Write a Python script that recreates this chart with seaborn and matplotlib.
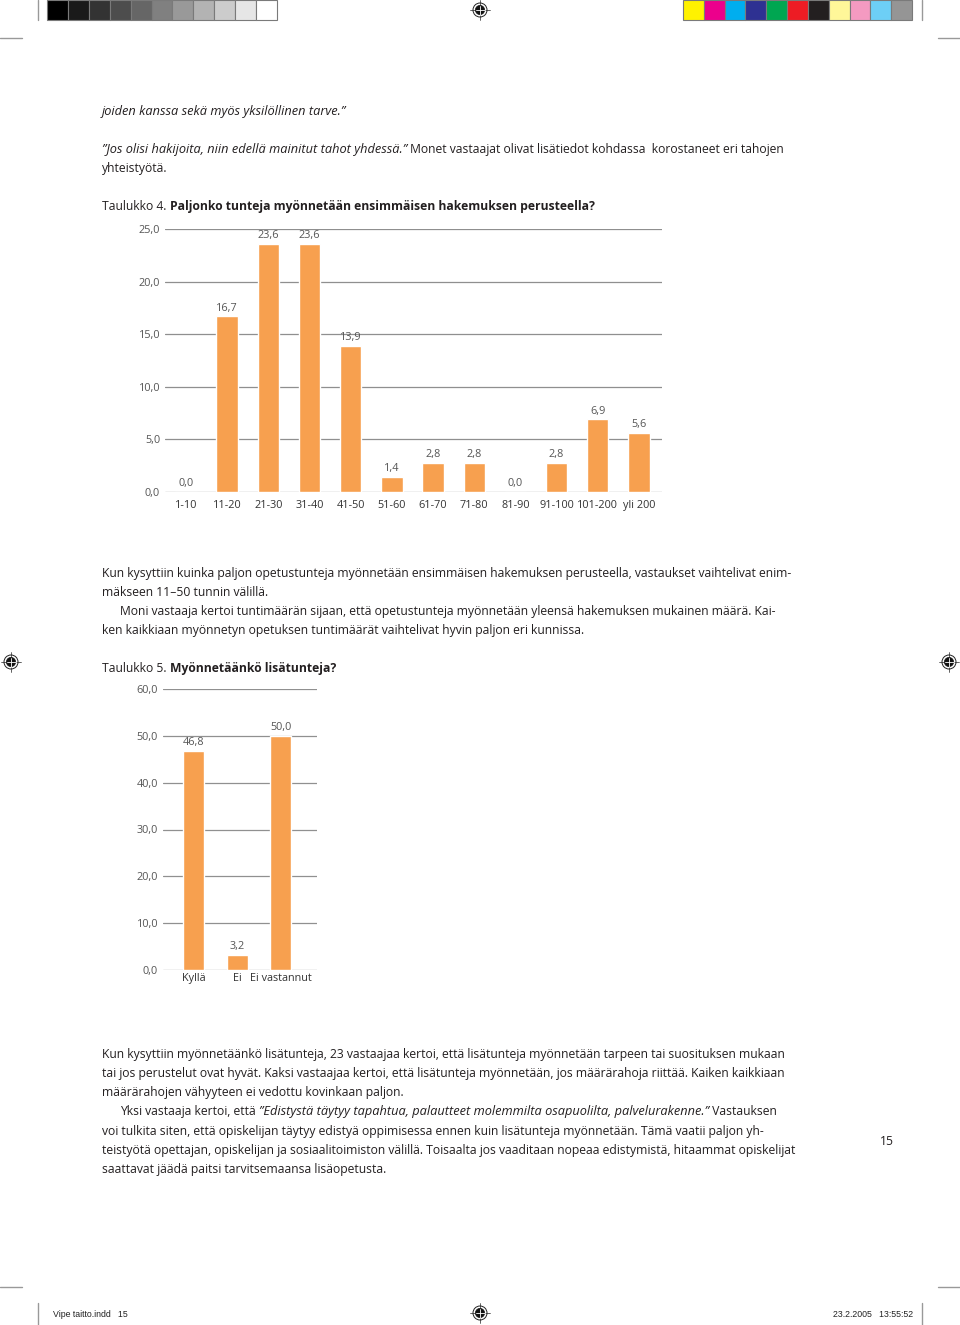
import matplotlib
matplotlib.use('Agg')
import matplotlib.pyplot as plt
import seaborn as sns
import numpy as np
import pandas as pd
from matplotlib.patches import Rectangle, Circle

sns.set_theme(style='white')
plt.rcParams['font.family'] = ['Open Sans', 'DejaVu Sans']

# ---------------- data ----------------
cats1 = ['1-10', '11-20', '21-30', '31-40', '41-50', '51-60', '61-70',
         '71-80', '81-90', '91-100', '101-200', 'yli 200']
vals1 = [0.0, 16.7, 23.6, 23.6, 13.9, 1.4, 2.8, 2.8, 0.0, 2.8, 6.9, 5.6]
ticks1 = [0, 5, 10, 15, 20, 25]

cats2 = ['Kyllä', 'Ei', 'Ei vastannut']
vals2 = [46.8, 3.2, 50.0]
ticks2 = [0, 10, 20, 30, 40, 50, 60]

grays = ['#000000', '#1a1a1a', '#333333', '#4d4d4d', '#666666', '#808080',
         '#999999', '#b3b3b3', '#cccccc', '#e6e6e6', '#ffffff']
colors = ['#fff200', '#ec008c', '#00aeef', '#2e3192', '#00a651', '#ed1c24',
          '#231f20', '#fff799', '#f49ac1', '#6dcff6', '#959595']

BAR = '#F7A04F'
GRID = '#8f8f8f'
TC = '#231f20'
LC = '#555555'
FS = 8.77
CFS = 7.8

W, H = 960, 1325
fig = plt.figure(figsize=(9.6, 13.25), dpi=100)
fig.patch.set_facecolor('white')
bg = fig.add_axes([0, 0, 1, 1])
bg.set_xlim(0, W)
bg.set_ylim(H, 0)
bg.axis('off')
bg.patch.set_alpha(0)


def fx(px):
    return px / W


def fy(py):
    return 1 - py / H


# ---------------- print marks ----------------
def swatches(x0, x1, cols):
    w = (x1 - x0) / len(cols)
    for i, c in enumerate(cols):
        bg.add_patch(Rectangle((x0 + i * w, 0), w, 20, fc=c, ec='#7a7a7a', lw=0.8))


swatches(47, 277, grays)
swatches(683, 912, colors)


def reg(cx, cy):
    bg.add_patch(Circle((cx, cy), 7, fill=False, lw=0.7, ec='#222'))
    bg.add_patch(Circle((cx, cy), 4.6, fc='#111', ec='#111', lw=0.5))
    bg.plot([cx - 10, cx + 10], [cy, cy], color='#222', lw=0.5)
    bg.plot([cx, cx], [cy - 10, cy + 10], color='#222', lw=0.5)
    bg.plot([cx - 4.5, cx + 4.5], [cy, cy], color='white', lw=0.6)
    bg.plot([cx, cx], [cy - 4.5, cy + 4.5], color='white', lw=0.6)


reg(480, 10)
reg(11, 662)
reg(949, 662)
reg(480, 1313)

mk = dict(color='#999999', lw=1.0)
bg.plot([0, 22], [38, 38], **mk)
bg.plot([938, 960], [38, 38], **mk)
bg.plot([38, 38], [0, 20], **mk)
bg.plot([922, 922], [0, 20], **mk)
bg.plot([0, 22], [1287, 1287], **mk)
bg.plot([938, 960], [1287, 1287], **mk)
bg.plot([38, 38], [1303, 1325], **mk)
bg.plot([922, 922], [1303, 1325], **mk)

foot = ['Liberation Sans Narrow', 'Liberation Sans', 'DejaVu Sans']
bg.text(53, 1317, 'Vipe taitto.indd   15', fontsize=6.3, family=foot,
        color='#222', va='baseline', ha='left')
bg.text(913, 1317, '23.2.2005   13:55:52', fontsize=6.3, family=foot,
        color='#222', va='baseline', ha='right')


# ---------------- body text ----------------
def line(x, y, segs, size=FS):
    prev = None
    for txt, st in segs:
        kw = dict(fontsize=size, color=TC)
        if st == 'i':
            kw['style'] = 'italic'
            kw['fontsize'] = size * 1.05
        elif st == 'b':
            kw['weight'] = 'bold'
        if prev is None:
            prev = bg.text(x, y + 4, txt, va='baseline', ha='left', **kw)
        else:
            prev = bg.annotate(txt, xy=(1, 0), xycoords=prev, va='bottom',
                               ha='left', **kw)


L = 102
IND = 120
line(L, 111, [('joiden kanssa sekä myös yksilöllinen tarve.”', 'i')])
line(L, 149, [('”Jos olisi hakijoita, niin edellä mainitut tahot yhdessä.”', 'i'),
              (' Monet vastaajat olivat lisätiedot kohdassa  korostaneet eri tahojen', 'n')])
line(L, 168, [('yhteistyötä.', 'n')])
line(L, 206, [('Taulukko 4. ', 'n'),
              ('Paljonko tunteja myönnetään ensimmäisen hakemuksen perusteella?', 'b')])

line(L, 573, [('Kun kysyttiin kuinka paljon opetustunteja myönnetään ensimmäisen hakemuksen perusteella, vastaukset vaihtelivat enim-', 'n')])
line(L, 592, [('mäkseen 11–50 tunnin välillä.', 'n')])
line(IND, 611, [('Moni vastaaja kertoi tuntimäärän sijaan, että opetustunteja myönnetään yleensä hakemuksen mukainen määrä. Kai-', 'n')])
line(L, 630, [('ken kaikkiaan myönnetyn opetuksen tuntimäärät vaihtelivat hyvin paljon eri kunnissa.', 'n')])
line(L, 668, [('Taulukko 5. ', 'n'), ('Myönnetäänkö lisätunteja?', 'b')])

line(L, 1054, [('Kun kysyttiin myönnetäänkö lisätunteja, 23 vastaajaa kertoi, että lisätunteja myönnetään tarpeen tai suosituksen mukaan', 'n')])
line(L, 1073, [('tai jos perustelut ovat hyvät. Kaksi vastaajaa kertoi, että lisätunteja myönnetään, jos määrärahoja riittää. Kaiken kaikkiaan', 'n')])
line(L, 1092, [('määrärahojen vähyyteen ei vedottu kovinkaan paljon.', 'n')])
line(IND, 1111, [('Yksi vastaaja kertoi, että ', 'n'),
                 ('”Edistystä täytyy tapahtua, palautteet molemmilta osapuolilta, palvelurakenne.”', 'i'),
                 (' Vastauksen', 'n')])
line(L, 1131, [('voi tulkita siten, että opiskelijan täytyy edistyä oppimisessa ennen kuin lisätunteja myönnetään. Tämä vaatii paljon yh-', 'n')])
line(L, 1150, [('teistyötä opettajan, opiskelijan ja sosiaalitoimiston välillä. Toisaalta jos vaaditaan nopeaa edistymistä, hitaammat opiskelijat', 'n')])
line(L, 1169, [('saattavat jäädä paitsi tarvitsemaansa lisäopetusta.', 'n')])
line(880, 1141, [('15', 'n')])


# ---------------- charts ----------------
def fmt(v):
    return f'{v:.1f}'.replace('.', ',')


def chart(rect, cats, vals, ticks, xlim, width, xpad, grid_on_top):
    ax = fig.add_axes(rect)
    df = pd.DataFrame({'cat': cats, 'val': vals})
    sns.barplot(data=df, x='cat', y='val', color=BAR, saturation=1,
                width=width, ax=ax, zorder=3)
    ax.set_xlim(*xlim)
    ax.set_ylim(ticks[0], ticks[-1])
    ax.set_yticks(ticks)
    ax.set_yticklabels([fmt(t) for t in ticks])
    ax.set_xlabel('')
    ax.set_ylabel('')
    for s in ax.spines.values():
        s.set_visible(False)
    if grid_on_top:
        ax.set_axisbelow(False)
        ax.yaxis.grid(True, color='#555555', lw=0.9, alpha=0.65, zorder=5)
    else:
        ax.set_axisbelow(True)
        ax.yaxis.grid(True, color=GRID, lw=0.9)
    ax.xaxis.grid(False)
    ax.tick_params(axis='y', length=0, pad=3.6, labelsize=CFS, labelcolor=LC)
    ax.tick_params(axis='x', length=0, pad=xpad, labelsize=CFS, labelcolor='#333')
    ax.patch.set_alpha(0)
    for c in ax.containers:
        ax.bar_label(c, labels=[fmt(v) for v in vals], padding=2,
                     fontsize=CFS, color=LC, clip_on=False)
    return ax


chart([fx(165), fy(492), fx(662) - fx(165), fy(229) - fy(492)],
      cats1, vals1, ticks1, (-0.51, 11.56), 0.52, 5.5, False)
chart([fx(163), fy(970), fx(317) - fx(163), fy(689) - fy(970)],
      cats2, vals2, ticks2, (-0.71, 2.83), 0.48, 2.5, True)

fig.savefig('out.png', dpi=100, facecolor='white')
